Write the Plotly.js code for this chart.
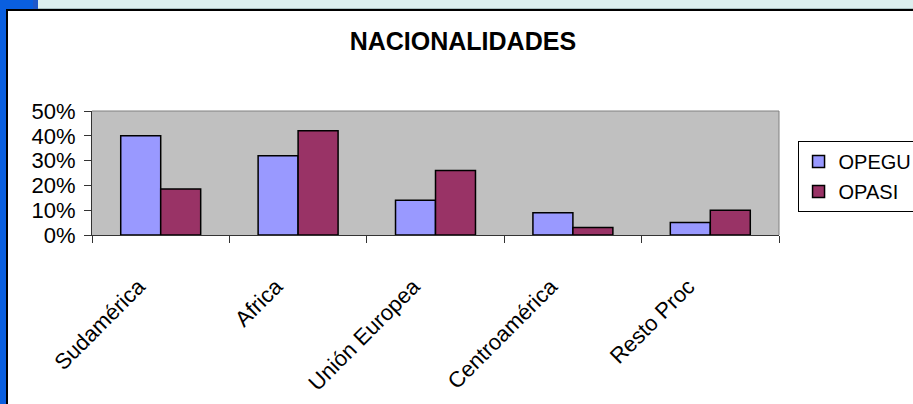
<!DOCTYPE html>
<html>
<head>
<meta charset="utf-8">
<script src="https://cdn.plot.ly/plotly-3.0.1.min.js"></script>
<style>
  html, body { margin: 0; padding: 0; background: #ffffff; }
  #wrap { position: relative; width: 913px; height: 404px; overflow: hidden; background: #ffffff; }
  .deco { position: absolute; }
  #chart { position: absolute; left: 0; top: 0; width: 913px; height: 404px; }
</style>
</head>
<body>
<div id="wrap">
  <div class="deco" style="left:38px;top:0;width:875px;height:8px;background:#dcefee;"></div>
  <div class="deco" style="left:38px;top:8px;width:875px;height:1px;background:#a9bfc0;"></div>
  <div class="deco" style="left:0;top:0;width:33px;height:9px;background:#0a5fdf;"></div>
  <div class="deco" style="left:33px;top:0;width:5px;height:9px;background:#1f58c8;"></div>
  <div class="deco" style="left:0;top:0;width:6px;height:404px;background:#0a5fdf;"></div>
  <div class="deco" style="left:6px;top:9px;width:907px;height:2px;background:#000000;"></div>
  <div class="deco" style="left:6px;top:9px;width:2px;height:395px;background:#000000;"></div>
  <div id="chart"></div>
</div>
<script>
const categories = ["Sudamérica", "Africa", "Unión Europea", "Centroamérica", "Resto Proc"];
const seriesNames = ["OPEGU", "OPASI"];
const opegu = [0.40, 0.32, 0.14, 0.09, 0.05];
const opasi = [0.185, 0.42, 0.26, 0.03, 0.10];
const yTickVals = [0, 0.1, 0.2, 0.3, 0.4, 0.5];
const yTickText = ["0%", "10%", "20%", "30%", "40%", "50%"];

const FONT = "'Liberation Sans', Arial, sans-serif";

const traces = [
  { type: "bar", name: seriesNames[0], x: categories, y: opegu, legendgroup: "a",
    marker: { color: "#9999ff", line: { color: "#000000", width: 1.5 } }, hoverinfo: "skip" },
  { type: "bar", name: seriesNames[1], x: categories, y: opasi, legendgroup: "b",
    marker: { color: "#993366", line: { color: "#000000", width: 1.5 } }, hoverinfo: "skip" }
];

const layout = {
  width: 913, height: 404,
  margin: { l: 92, r: 134, t: 111, b: 169, pad: 0, autoexpand: false },
  paper_bgcolor: "rgba(0,0,0,0)",
  plot_bgcolor: "#c0c0c0",
  font: { family: FONT, color: "#000000", size: 20 },
  title: { text: "<b>NACIONALIDADES</b>", font: { family: FONT, size: 25, color: "#000000" },
           xref: "container", yref: "container", x: 0.507, y: 0.898, xanchor: "center", yanchor: "middle" },
  barmode: "group",
  bargap: 0.418,
  bargroupgap: 0,
  showlegend: true,
  legend: {
    x: 1.027, xanchor: "left", y: 0.758, yanchor: "top",
    bordercolor: "#000000", borderwidth: 1, bgcolor: "#ffffff",
    font: { family: FONT, size: 20, color: "#000000" },
    tracegroupgap: 1, itemwidth: 30
  },
  xaxis: {
    type: "category",
    tickangle: -45,
    tickson: "boundaries",
    ticks: "outside", ticklen: 7, tickwidth: 1, tickcolor: "#333333",
    showline: true, linecolor: "#333333", linewidth: 1,
    showgrid: false, zeroline: false,
    tickfont: { family: FONT, size: 22, color: "#000000" },
    ticklabelstandoff: 29,
    ticklabelshift: -22,
    fixedrange: true
  },
  yaxis: {
    range: [0, 0.5],
    tickvals: yTickVals, ticktext: yTickText,
    ticks: "outside", ticklen: 7, tickwidth: 1, tickcolor: "#333333",
    showline: true, linecolor: "#333333", linewidth: 1,
    showgrid: false, zeroline: false,
    tickfont: { family: FONT, size: 22, color: "#000000" },
    ticklabelstandoff: 4,
    fixedrange: true
  },
  shapes: [
    { type: "line", xref: "paper", yref: "paper", x0: 0, x1: 1, y0: 1, y1: 1,
      line: { color: "#808080", width: 1 }, layer: "above" },
    { type: "line", xref: "paper", yref: "paper", x0: 1, x1: 1, y0: 0, y1: 1,
      line: { color: "#808080", width: 1 }, layer: "above" }
  ]
};

Plotly.newPlot("chart", traces, layout, { staticPlot: true, displayModeBar: false });
</script>
</body>
</html>
